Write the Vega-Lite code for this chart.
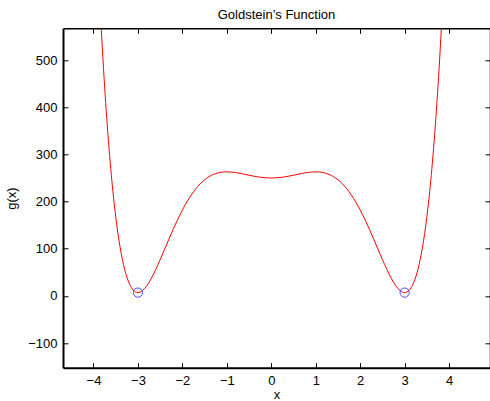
{
  "$schema": "https://vega.github.io/schema/vega-lite/v6.json",
  "width": 427,
  "height": 339.4,
  "autosize": "none",
  "padding": {"left": 63, "top": 28.3, "right": 0, "bottom": 33.3},
  "background": "white",
  "config": {
    "view": {"stroke": null},
    "font": "Liberation Sans",
    "axis": {
      "grid": false,
      "domainColor": "black",
      "tickColor": "black",
      "labelColor": "black",
      "titleColor": "black",
      "labelFontSize": 13,
      "titleFontSize": 13,
      "titleFontWeight": "normal",
      "labelFont": "Liberation Sans",
      "titleFont": "Liberation Sans",
      "tickSize": -5,
      "tickWidth": 1,
      "labelFlush": false,
      "labelOverlap": false
    }
  },
  "title": {
    "text": "Goldstein’s Function",
    "fontSize": 13,
    "fontWeight": "normal",
    "font": "Liberation Sans",
    "color": "black",
    "offset": -4,
    "baseline": "alphabetic"
  },
  "datasets": {
    "curve": [
      {"x": -3.9, "y": 709.25},
      {"x": -3.85, "y": 611.2},
      {"x": -3.8, "y": 523.11},
      {"x": -3.7, "y": 374.12},
      {"x": -3.6, "y": 257.28},
      {"x": -3.5, "y": 168.08},
      {"x": -3.4, "y": 102.42},
      {"x": -3.3, "y": 56.62},
      {"x": -3.2, "y": 27.36},
      {"x": -3.1, "y": 11.69},
      {"x": -3.05, "y": 8.13},
      {"x": -3.0, "y": 7.0},
      {"x": -2.95, "y": 8.04},
      {"x": -2.9, "y": 10.97},
      {"x": -2.8, "y": 21.59},
      {"x": -2.7, "y": 37.09},
      {"x": -2.6, "y": 55.97},
      {"x": -2.5, "y": 76.95},
      {"x": -2.4, "y": 98.96},
      {"x": -2.3, "y": 121.1},
      {"x": -2.2, "y": 142.68},
      {"x": -2.1, "y": 163.11},
      {"x": -2.0, "y": 182.0},
      {"x": -1.9, "y": 199.03},
      {"x": -1.8, "y": 214.03},
      {"x": -1.7, "y": 226.89},
      {"x": -1.6, "y": 237.59},
      {"x": -1.5, "y": 246.2},
      {"x": -1.4, "y": 252.83},
      {"x": -1.3, "y": 257.62},
      {"x": -1.2, "y": 260.76},
      {"x": -1.1, "y": 262.48},
      {"x": -1.0, "y": 263.0},
      {"x": -0.9, "y": 262.56},
      {"x": -0.8, "y": 261.4},
      {"x": -0.7, "y": 259.75},
      {"x": -0.6, "y": 257.82},
      {"x": -0.5, "y": 255.83},
      {"x": -0.4, "y": 253.94},
      {"x": -0.3, "y": 252.31},
      {"x": -0.2, "y": 251.06},
      {"x": -0.1, "y": 250.27},
      {"x": 0.0, "y": 250.0},
      {"x": 0.1, "y": 250.27},
      {"x": 0.2, "y": 251.06},
      {"x": 0.3, "y": 252.31},
      {"x": 0.4, "y": 253.94},
      {"x": 0.5, "y": 255.83},
      {"x": 0.6, "y": 257.82},
      {"x": 0.7, "y": 259.75},
      {"x": 0.8, "y": 261.4},
      {"x": 0.9, "y": 262.56},
      {"x": 1.0, "y": 263.0},
      {"x": 1.1, "y": 262.48},
      {"x": 1.2, "y": 260.76},
      {"x": 1.3, "y": 257.62},
      {"x": 1.4, "y": 252.83},
      {"x": 1.5, "y": 246.2},
      {"x": 1.6, "y": 237.59},
      {"x": 1.7, "y": 226.89},
      {"x": 1.8, "y": 214.03},
      {"x": 1.9, "y": 199.03},
      {"x": 2.0, "y": 182.0},
      {"x": 2.1, "y": 163.11},
      {"x": 2.2, "y": 142.68},
      {"x": 2.3, "y": 121.1},
      {"x": 2.4, "y": 98.96},
      {"x": 2.5, "y": 76.95},
      {"x": 2.6, "y": 55.97},
      {"x": 2.7, "y": 37.09},
      {"x": 2.8, "y": 21.59},
      {"x": 2.9, "y": 10.97},
      {"x": 2.95, "y": 8.04},
      {"x": 3.0, "y": 7.0},
      {"x": 3.05, "y": 8.13},
      {"x": 3.1, "y": 11.69},
      {"x": 3.2, "y": 27.36},
      {"x": 3.3, "y": 56.62},
      {"x": 3.4, "y": 102.42},
      {"x": 3.5, "y": 168.08},
      {"x": 3.6, "y": 257.28},
      {"x": 3.7, "y": 374.12},
      {"x": 3.8, "y": 523.11},
      {"x": 3.85, "y": 611.2},
      {"x": 3.9, "y": 709.25}
    ],
    "minima": [
      {"x": -3.0, "y": 7.0},
      {"x": 3.0, "y": 7.0}
    ]
  },
  "layer": [
    {
      "data": {"name": "curve"},
      "mark": {"type": "line", "color": "#ff0000", "strokeWidth": 1, "clip": true, "interpolate": "monotone"},
      "encoding": {
        "x": {
          "field": "x", "type": "quantitative",
          "scale": {"domain": [-4.686, 4.92], "nice": false, "zero": false},
          "axis": {"orient": "bottom", "title": "x", "values": [-4, -3, -2, -1, 0, 1, 2, 3, 4], "domainWidth": 2, "labelPadding": 12, "titleY": 31, "titleBaseline": "alphabetic"}
        },
        "y": {
          "field": "y", "type": "quantitative",
          "scale": {"domain": [-152.2, 567.3], "nice": false, "zero": false},
          "axis": {"orient": "left", "title": "g(x)", "values": [-100, 0, 100, 200, 300, 400, 500], "domainWidth": 2, "labelPadding": 11, "titleX": -48, "titleBaseline": "alphabetic", "titleAngle": -90}
        }
      }
    },
    {
      "data": {"name": "minima"},
      "mark": {"type": "point", "shape": "circle", "filled": false, "color": "#0000ff", "size": 85, "strokeWidth": 1},
      "encoding": {
        "x": {
          "field": "x", "type": "quantitative",
          "axis": {"orient": "top", "title": null, "labels": false, "values": [-4, -3, -2, -1, 0, 1, 2, 3, 4], "domainWidth": 1.5}
        },
        "y": {
          "field": "y", "type": "quantitative",
          "axis": {"orient": "right", "title": null, "labels": false, "values": [-100, 0, 100, 200, 300, 400, 500], "domainWidth": 1.5}
        }
      }
    }
  ],
  "resolve": {"axis": {"x": "independent", "y": "independent"}}
}
